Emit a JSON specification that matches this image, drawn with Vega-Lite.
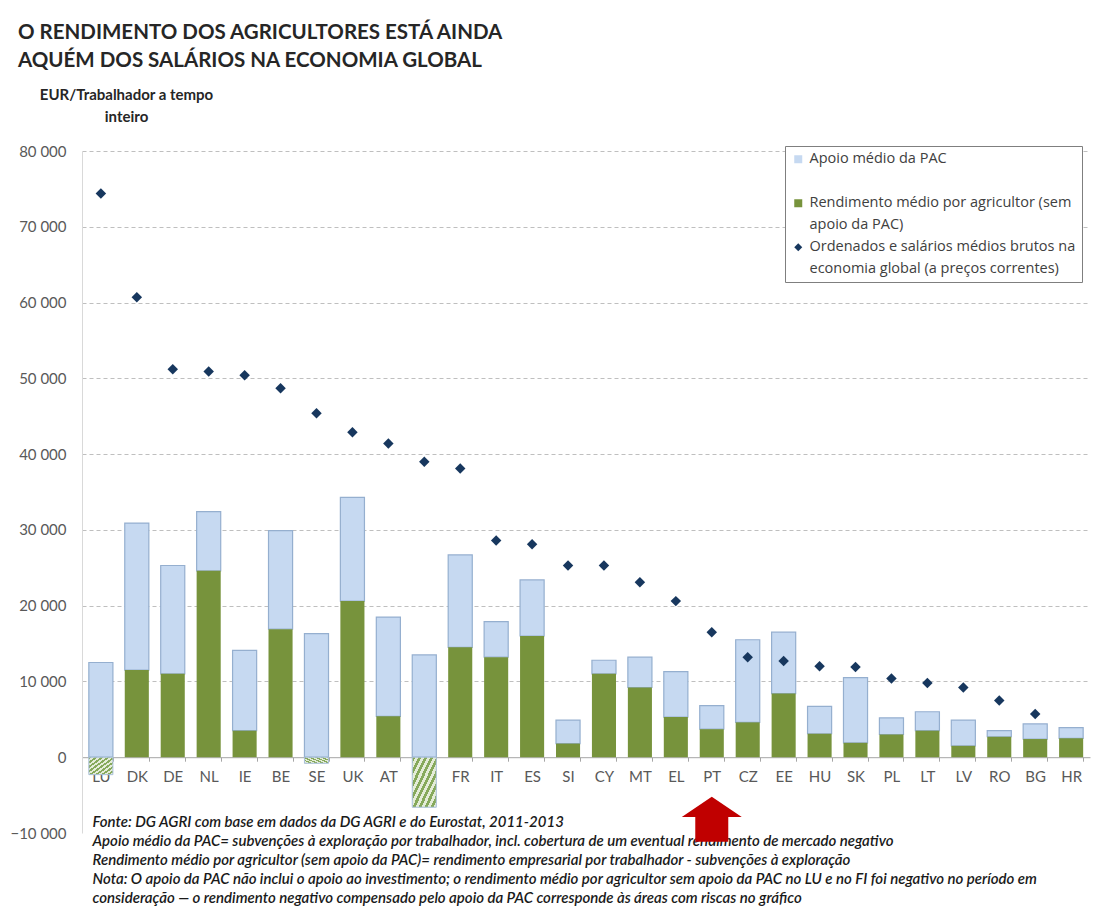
{
  "$schema": "https://vega.github.io/schema/vega-lite/v6.json",
  "width": 1008,
  "height": 682,
  "autosize": {"type": "none"},
  "padding": {"left": 82, "top": 151, "right": 3, "bottom": 90},
  "background": "white",
  "config": {"view": {"stroke": null}, "font": "Lato"},
  "title": {
    "text": ["O RENDIMENTO  DOS AGRICULTORES  ESTÁ AINDA", "AQUÉM DOS SALÁRIOS NA ECONOMIA GLOBAL"],
    "anchor": "start",
    "frame": "group",
    "dx": -64,
    "offset": 16,
    "font": "Lato",
    "fontSize": 20.5,
    "fontWeight": "bold",
    "color": "#262626",
    "lineHeight": 28
  },
  "datasets": {
    "dados": [
      {"pais": "LU", "serie": "Apoio médio da PAC", "valor": 12500},
      {"pais": "LU", "serie": "Rendimento médio por agricultor (sem apoio da PAC)", "valor": -2300},
      {"pais": "LU", "serie": "Ordenados e salários médios brutos na economia global (a preços correntes)", "valor": 74400},
      {"pais": "DK", "serie": "Apoio médio da PAC", "valor": 19400},
      {"pais": "DK", "serie": "Rendimento médio por agricultor (sem apoio da PAC)", "valor": 11500},
      {"pais": "DK", "serie": "Ordenados e salários médios brutos na economia global (a preços correntes)", "valor": 60700},
      {"pais": "DE", "serie": "Apoio médio da PAC", "valor": 14300},
      {"pais": "DE", "serie": "Rendimento médio por agricultor (sem apoio da PAC)", "valor": 11000},
      {"pais": "DE", "serie": "Ordenados e salários médios brutos na economia global (a preços correntes)", "valor": 51200},
      {"pais": "NL", "serie": "Apoio médio da PAC", "valor": 7800},
      {"pais": "NL", "serie": "Rendimento médio por agricultor (sem apoio da PAC)", "valor": 24600},
      {"pais": "NL", "serie": "Ordenados e salários médios brutos na economia global (a preços correntes)", "valor": 50900},
      {"pais": "IE", "serie": "Apoio médio da PAC", "valor": 10600},
      {"pais": "IE", "serie": "Rendimento médio por agricultor (sem apoio da PAC)", "valor": 3500},
      {"pais": "IE", "serie": "Ordenados e salários médios brutos na economia global (a preços correntes)", "valor": 50400},
      {"pais": "BE", "serie": "Apoio médio da PAC", "valor": 13000},
      {"pais": "BE", "serie": "Rendimento médio por agricultor (sem apoio da PAC)", "valor": 16900},
      {"pais": "BE", "serie": "Ordenados e salários médios brutos na economia global (a preços correntes)", "valor": 48700},
      {"pais": "SE", "serie": "Apoio médio da PAC", "valor": 16300},
      {"pais": "SE", "serie": "Rendimento médio por agricultor (sem apoio da PAC)", "valor": -800},
      {"pais": "SE", "serie": "Ordenados e salários médios brutos na economia global (a preços correntes)", "valor": 45400},
      {"pais": "UK", "serie": "Apoio médio da PAC", "valor": 13700},
      {"pais": "UK", "serie": "Rendimento médio por agricultor (sem apoio da PAC)", "valor": 20600},
      {"pais": "UK", "serie": "Ordenados e salários médios brutos na economia global (a preços correntes)", "valor": 42900},
      {"pais": "AT", "serie": "Apoio médio da PAC", "valor": 13100},
      {"pais": "AT", "serie": "Rendimento médio por agricultor (sem apoio da PAC)", "valor": 5400},
      {"pais": "AT", "serie": "Ordenados e salários médios brutos na economia global (a preços correntes)", "valor": 41400},
      {"pais": "FI", "serie": "Apoio médio da PAC", "valor": 13500},
      {"pais": "FI", "serie": "Rendimento médio por agricultor (sem apoio da PAC)", "valor": -6600},
      {"pais": "FI", "serie": "Ordenados e salários médios brutos na economia global (a preços correntes)", "valor": 39000},
      {"pais": "FR", "serie": "Apoio médio da PAC", "valor": 12200},
      {"pais": "FR", "serie": "Rendimento médio por agricultor (sem apoio da PAC)", "valor": 14500},
      {"pais": "FR", "serie": "Ordenados e salários médios brutos na economia global (a preços correntes)", "valor": 38100},
      {"pais": "IT", "serie": "Apoio médio da PAC", "valor": 4700},
      {"pais": "IT", "serie": "Rendimento médio por agricultor (sem apoio da PAC)", "valor": 13200},
      {"pais": "IT", "serie": "Ordenados e salários médios brutos na economia global (a preços correntes)", "valor": 28600},
      {"pais": "ES", "serie": "Apoio médio da PAC", "valor": 7400},
      {"pais": "ES", "serie": "Rendimento médio por agricultor (sem apoio da PAC)", "valor": 16000},
      {"pais": "ES", "serie": "Ordenados e salários médios brutos na economia global (a preços correntes)", "valor": 28100},
      {"pais": "SI", "serie": "Apoio médio da PAC", "valor": 3100},
      {"pais": "SI", "serie": "Rendimento médio por agricultor (sem apoio da PAC)", "valor": 1800},
      {"pais": "SI", "serie": "Ordenados e salários médios brutos na economia global (a preços correntes)", "valor": 25300},
      {"pais": "CY", "serie": "Apoio médio da PAC", "valor": 1800},
      {"pais": "CY", "serie": "Rendimento médio por agricultor (sem apoio da PAC)", "valor": 11000},
      {"pais": "CY", "serie": "Ordenados e salários médios brutos na economia global (a preços correntes)", "valor": 25300},
      {"pais": "MT", "serie": "Apoio médio da PAC", "valor": 4000},
      {"pais": "MT", "serie": "Rendimento médio por agricultor (sem apoio da PAC)", "valor": 9200},
      {"pais": "MT", "serie": "Ordenados e salários médios brutos na economia global (a preços correntes)", "valor": 23100},
      {"pais": "EL", "serie": "Apoio médio da PAC", "valor": 6000},
      {"pais": "EL", "serie": "Rendimento médio por agricultor (sem apoio da PAC)", "valor": 5300},
      {"pais": "EL", "serie": "Ordenados e salários médios brutos na economia global (a preços correntes)", "valor": 20600},
      {"pais": "PT", "serie": "Apoio médio da PAC", "valor": 3100},
      {"pais": "PT", "serie": "Rendimento médio por agricultor (sem apoio da PAC)", "valor": 3700},
      {"pais": "PT", "serie": "Ordenados e salários médios brutos na economia global (a preços correntes)", "valor": 16500},
      {"pais": "CZ", "serie": "Apoio médio da PAC", "valor": 10900},
      {"pais": "CZ", "serie": "Rendimento médio por agricultor (sem apoio da PAC)", "valor": 4600},
      {"pais": "CZ", "serie": "Ordenados e salários médios brutos na economia global (a preços correntes)", "valor": 13200},
      {"pais": "EE", "serie": "Apoio médio da PAC", "valor": 8100},
      {"pais": "EE", "serie": "Rendimento médio por agricultor (sem apoio da PAC)", "valor": 8400},
      {"pais": "EE", "serie": "Ordenados e salários médios brutos na economia global (a preços correntes)", "valor": 12700},
      {"pais": "HU", "serie": "Apoio médio da PAC", "valor": 3600},
      {"pais": "HU", "serie": "Rendimento médio por agricultor (sem apoio da PAC)", "valor": 3100},
      {"pais": "HU", "serie": "Ordenados e salários médios brutos na economia global (a preços correntes)", "valor": 12000},
      {"pais": "SK", "serie": "Apoio médio da PAC", "valor": 8600},
      {"pais": "SK", "serie": "Rendimento médio por agricultor (sem apoio da PAC)", "valor": 1900},
      {"pais": "SK", "serie": "Ordenados e salários médios brutos na economia global (a preços correntes)", "valor": 11900},
      {"pais": "PL", "serie": "Apoio médio da PAC", "valor": 2200},
      {"pais": "PL", "serie": "Rendimento médio por agricultor (sem apoio da PAC)", "valor": 3000},
      {"pais": "PL", "serie": "Ordenados e salários médios brutos na economia global (a preços correntes)", "valor": 10400},
      {"pais": "LT", "serie": "Apoio médio da PAC", "valor": 2500},
      {"pais": "LT", "serie": "Rendimento médio por agricultor (sem apoio da PAC)", "valor": 3500},
      {"pais": "LT", "serie": "Ordenados e salários médios brutos na economia global (a preços correntes)", "valor": 9800},
      {"pais": "LV", "serie": "Apoio médio da PAC", "valor": 3400},
      {"pais": "LV", "serie": "Rendimento médio por agricultor (sem apoio da PAC)", "valor": 1500},
      {"pais": "LV", "serie": "Ordenados e salários médios brutos na economia global (a preços correntes)", "valor": 9200},
      {"pais": "RO", "serie": "Apoio médio da PAC", "valor": 800},
      {"pais": "RO", "serie": "Rendimento médio por agricultor (sem apoio da PAC)", "valor": 2700},
      {"pais": "RO", "serie": "Ordenados e salários médios brutos na economia global (a preços correntes)", "valor": 7500},
      {"pais": "BG", "serie": "Apoio médio da PAC", "valor": 2000},
      {"pais": "BG", "serie": "Rendimento médio por agricultor (sem apoio da PAC)", "valor": 2400},
      {"pais": "BG", "serie": "Ordenados e salários médios brutos na economia global (a preços correntes)", "valor": 5700},
      {"pais": "HR", "serie": "Apoio médio da PAC", "valor": 1400},
      {"pais": "HR", "serie": "Rendimento médio por agricultor (sem apoio da PAC)", "valor": 2500}
    ],
    "seta": [{"pais": "PT", "valor": -8200}]
  },
  "data": {"name": "dados"},
  "encoding": {
    "x": {
      "field": "pais",
      "type": "nominal",
      "sort": null,
      "scale": {
        "domain": ["LU","DK","DE","NL","IE","BE","SE","UK","AT","FI","FR","IT","ES","SI","CY","MT","EL","PT","CZ","EE","HU","SK","PL","LT","LV","RO","BG","HR"],
        "paddingInner": 0.33,
        "paddingOuter": 0.19
      },
      "axis": {
        "orient": "bottom",
        "offset": -75.8,
        "labelAngle": 0,
        "labelPadding": 8,
        "labelFontSize": 15,
        "labelColor": "#595959",
        "labelFont": "Lato",
        "domainColor": "#A6A6A6",
        "tickBand": "extent",
        "tickSize": 4,
        "tickColor": "#A6A6A6",
        "title": [
          "Fonte: DG AGRI com base em dados da DG AGRI  e do Eurostat, 2011-2013",
          "Apoio médio da PAC= subvenções à exploração por trabalhador, incl. cobertura de um eventual rendimento de mercado negativo",
          "Rendimento médio por agricultor (sem apoio da PAC)= rendimento empresarial por trabalhador - subvenções à exploração",
          "Nota: O apoio da PAC não inclui o apoio ao investimento; o rendimento médio por agricultor sem apoio da PAC no LU e no FI foi negativo no período em",
          "consideração — o rendimento negativo compensado pelo apoio da PAC corresponde às áreas com riscas no gráfico"
        ],
        "titleX": 10,
        "titleY": 57,
        "titleAlign": "left",
        "titleAnchor": "start",
        "titleBaseline": "top",
        "titleFont": "Lato",
        "titleFontSize": 15,
        "titleFontStyle": "italic",
        "titleFontWeight": 600,
        "titleColor": "#1A1A1A",
        "titleLineHeight": 19.2,
        "titleLimit": 1100
      }
    }
  },
  "layer": [
    {
      "transform": [{"filter": "datum.serie != 'Ordenados e salários médios brutos na economia global (a preços correntes)' && datum.valor >= 0"}],
      "mark": {"type": "bar", "strokeWidth": 1.2},
      "encoding": {
        "y": {
          "field": "valor",
          "type": "quantitative",
          "stack": "zero",
          "scale": {"domain": [-10000, 80000], "nice": false, "zero": false},
          "axis": {
            "values": [-10000, 0, 10000, 20000, 30000, 40000, 50000, 60000, 70000, 80000],
            "labelExpr": "replace(format(datum.value, ','), ',', ' ')",
            "labelFontSize": 15,
            "labelColor": "#595959",
            "labelFont": "Lato",
            "labelPadding": 16,
            "ticks": false,
            "domainColor": "#D9D9D9",
            "grid": true,
            "gridColor": "#BFBFBF",
            "gridDash": [4, 3],
            "gridOpacity": {"condition": {"test": "datum.value > 0", "value": 1}, "value": 0},
            "title": ["EUR/Trabalhador a tempo", "inteiro"],
            "titleAngle": 0,
            "titleAlign": "center",
            "titleBaseline": "top",
            "titleX": 44,
            "titleY": -64,
            "titleFont": "Lato",
            "titleFontSize": 15,
            "titleFontWeight": "bold",
            "titleColor": "#262626",
            "titleLineHeight": 22
          }
        },
        "color": {
          "field": "serie",
          "type": "nominal",
          "scale": {
            "domain": ["Apoio médio da PAC", " ", "Rendimento médio por agricultor (sem apoio da PAC)", "  ", "Ordenados e salários médios brutos na economia global (a preços correntes)", "   "],
            "range": ["#C6D9F1", "rgba(255,255,255,0)", "#77933C", "rgba(255,255,255,0)", "#17375E", "rgba(255,255,255,0)"]
          },
          "legend": {
            "title": null,
            "orient": "none",
            "legendX": 703,
            "legendY": -5,
            "fillColor": "white",
            "strokeColor": "#7F7F7F",
            "padding": 6,
            "rowPadding": 7,
            "symbolSize": 64,
            "labelFont": "Open Sans",
            "labelFontSize": 14.5,
            "labelColor": "#404040",
            "labelLimit": 400,
            "labelExpr": "datum.label == 'Rendimento médio por agricultor (sem apoio da PAC)' ? 'Rendimento médio por agricultor (sem' : datum.label == '  ' ? 'apoio da PAC)' : datum.label == 'Ordenados e salários médios brutos na economia global (a preços correntes)' ? 'Ordenados e salários médios brutos na' : datum.label == '   ' ? 'economia global (a preços correntes)' : datum.label"
          }
        },
        "order": {"field": "serie", "sort": "descending"},
        "stroke": {
          "condition": {"test": "datum.serie == 'Apoio médio da PAC'", "value": "#95AFCF"},
          "value": null
        }
      }
    },
    {
      "transform": [{"filter": "datum.serie == 'Rendimento médio por agricultor (sem apoio da PAC)' && datum.valor < 0"}],
      "mark": {
        "type": "bar",
        "stroke": "#A9C0DA",
        "strokeWidth": 1,
        "color": {
          "gradient": "linear",
          "x1": 0, "y1": 0, "x2": 1, "y2": 1,
          "stops": [
            {"offset": 0, "color": "#86A95B"}, {"offset": 0.0625, "color": "#86A95B"},
            {"offset": 0.0625, "color": "#E4ECD8"}, {"offset": 0.125, "color": "#E4ECD8"},
            {"offset": 0.125, "color": "#86A95B"}, {"offset": 0.1875, "color": "#86A95B"},
            {"offset": 0.1875, "color": "#E4ECD8"}, {"offset": 0.25, "color": "#E4ECD8"},
            {"offset": 0.25, "color": "#86A95B"}, {"offset": 0.3125, "color": "#86A95B"},
            {"offset": 0.3125, "color": "#E4ECD8"}, {"offset": 0.375, "color": "#E4ECD8"},
            {"offset": 0.375, "color": "#86A95B"}, {"offset": 0.4375, "color": "#86A95B"},
            {"offset": 0.4375, "color": "#E4ECD8"}, {"offset": 0.5, "color": "#E4ECD8"},
            {"offset": 0.5, "color": "#86A95B"}, {"offset": 0.5625, "color": "#86A95B"},
            {"offset": 0.5625, "color": "#E4ECD8"}, {"offset": 0.625, "color": "#E4ECD8"},
            {"offset": 0.625, "color": "#86A95B"}, {"offset": 0.6875, "color": "#86A95B"},
            {"offset": 0.6875, "color": "#E4ECD8"}, {"offset": 0.75, "color": "#E4ECD8"},
            {"offset": 0.75, "color": "#86A95B"}, {"offset": 0.8125, "color": "#86A95B"},
            {"offset": 0.8125, "color": "#E4ECD8"}, {"offset": 0.875, "color": "#E4ECD8"},
            {"offset": 0.875, "color": "#86A95B"}, {"offset": 0.9375, "color": "#86A95B"},
            {"offset": 0.9375, "color": "#E4ECD8"}, {"offset": 1, "color": "#E4ECD8"}
          ]
        }
      },
      "encoding": {
        "y": {"field": "valor", "type": "quantitative", "stack": null}
      }
    },
    {
      "transform": [{"filter": "datum.serie == 'Ordenados e salários médios brutos na economia global (a preços correntes)'"}],
      "mark": {"type": "point", "filled": true, "size": 110, "opacity": 1},
      "encoding": {
        "y": {"field": "valor", "type": "quantitative"},
        "color": {"field": "serie", "type": "nominal"},
        "shape": {
          "field": "serie",
          "type": "nominal",
          "scale": {
            "domain": ["Apoio médio da PAC", " ", "Rendimento médio por agricultor (sem apoio da PAC)", "  ", "Ordenados e salários médios brutos na economia global (a preços correntes)", "   "],
            "range": ["square", "square", "square", "square", "diamond", "square"]
          },
          "legend": {
            "title": null,
            "orient": "none",
            "legendX": 703,
            "legendY": -5,
            "fillColor": "white",
            "strokeColor": "#7F7F7F",
            "padding": 6,
            "rowPadding": 7,
            "symbolSize": 64,
            "labelFont": "Open Sans",
            "labelFontSize": 14.5,
            "labelColor": "#404040",
            "labelLimit": 400,
            "labelExpr": "datum.label == 'Rendimento médio por agricultor (sem apoio da PAC)' ? 'Rendimento médio por agricultor (sem' : datum.label == '  ' ? 'apoio da PAC)' : datum.label == 'Ordenados e salários médios brutos na economia global (a preços correntes)' ? 'Ordenados e salários médios brutos na' : datum.label == '   ' ? 'economia global (a preços correntes)' : datum.label"
          }
        }
      }
    },
    {
      "data": {"name": "seta"},
      "mark": {
        "type": "point",
        "filled": true,
        "opacity": 1,
        "color": "#C00000",
        "size": 3600,
        "shape": "M0,-0.75L1,-0.08L0.55,-0.08L0.55,0.75L-0.55,0.75L-0.55,-0.08L-1,-0.08Z"
      },
      "encoding": {
        "y": {"field": "valor", "type": "quantitative"}
      }
    }
  ]
}
